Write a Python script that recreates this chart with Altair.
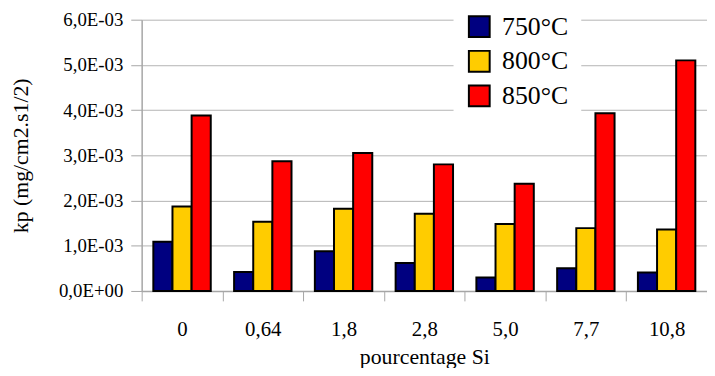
import altair as alt
import pandas as pd

categories = ["0", "0,64", "1,8", "2,8", "5,0", "7,7", "10,8"]
series = ["750°C", "800°C", "850°C"]
kp_750 = [1.09e-3, 0.42e-3, 0.88e-3, 0.62e-3, 0.30e-3, 0.50e-3, 0.41e-3]
kp_800 = [1.87e-3, 1.53e-3, 1.82e-3, 1.71e-3, 1.48e-3, 1.39e-3, 1.36e-3]
kp_850 = [3.88e-3, 2.87e-3, 3.05e-3, 2.80e-3, 2.37e-3, 3.93e-3, 5.10e-3]
colors = ["#000080", "#FFCC00", "#FF0000"]
y_ticks = [0, 1e-3, 2e-3, 3e-3, 4e-3, 5e-3, 6e-3]

rows = []
for s, vals in zip(series, [kp_750, kp_800, kp_850]):
    for c, v in zip(categories, vals):
        rows.append({"cat": c, "serie": s, "kp": v})
df = pd.DataFrame(rows)

FONT = "Liberation Serif"

chart = alt.Chart(df).mark_bar(stroke="black", strokeWidth=2).encode(
    x=alt.X("cat:N", sort=categories,
            scale=alt.Scale(paddingInner=0, paddingOuter=0),
            axis=alt.Axis(title="pourcentage Si", labelAngle=0, tickBand="extent",
                          labelFontSize=21, labelFont=FONT, labelColor="black",
                          titleFont=FONT, titleFontSize=22, titleFontWeight="normal",
                          titleColor="black", titlePadding=7,
                          tickSize=10, labelPadding=18,
                          domainColor="#a6a6a6", tickColor="#a6a6a6", grid=False)),
    xOffset=alt.XOffset("serie:N", sort=series,
                        scale=alt.Scale(paddingOuter=0.61, paddingInner=0)),
    y=alt.Y("kp:Q", scale=alt.Scale(domain=[0, 0.006], nice=False),
            axis=alt.Axis(title="kp (mg/cm2.s1/2)", values=y_ticks,
                          labelExpr="datum.value == 0 ? '0,0E+00' : replace(format(datum.value*1000, '.1f'), '.', ',') + 'E-03'",
                          labelFontSize=19, labelFont=FONT, labelColor="black",
                          titleFont=FONT, titleFontSize=22, titleFontWeight="normal",
                          titleColor="black", titlePadding=26,
                          tickSize=11, labelPadding=8,
                          domainColor="#a6a6a6", tickColor="#a6a6a6",
                          grid=True, gridColor="#b3b3b3")),
    color=alt.Color("serie:N", sort=series,
                    scale=alt.Scale(domain=series, range=colors),
                    legend=alt.Legend(title=None, orient="none", legendX=315, legendY=-19,
                                      fillColor="white", padding=13,
                                      symbolType="square", symbolSize=441,
                                      symbolStrokeColor="black", symbolStrokeWidth=2,
                                      labelFont=FONT, labelFontSize=26, labelColor="black",
                                      labelOffset=10, rowPadding=5)),
).properties(
    width=571, height=274,
    autosize=alt.AutoSizeParams(type="none"),
    padding={"left": 135, "top": 10, "right": 0, "bottom": 76},
).configure_view(stroke=None).configure_axis(domainWidth=1.5)

chart.save("out.html", embed_options={"renderer": "svg", "actions": False})
